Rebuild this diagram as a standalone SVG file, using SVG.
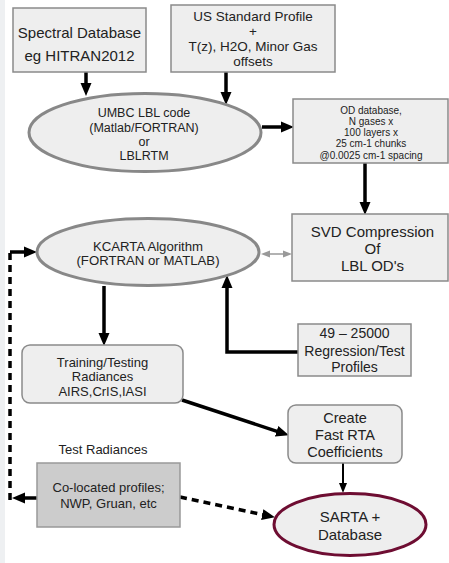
<svg xmlns="http://www.w3.org/2000/svg" width="449" height="563" viewBox="0 0 449 563">
<style>
  text { font-family: "Liberation Sans", Arial, sans-serif; fill: #222; text-anchor: middle; }
  .box { fill: #eeeeee; stroke: #8a8a8a; stroke-width: 1.5; }
  .ell { fill: #eeeeee; stroke: #888888; stroke-width: 3; }
  .con { fill: none; stroke: #000; stroke-width: 3.5; }
  .dash { fill: none; stroke: #000; stroke-width: 3.5; stroke-dasharray: 7 5; }
</style>
<defs>
  <marker id="ah" markerUnits="userSpaceOnUse" markerWidth="13" markerHeight="12" refX="6" refY="6" orient="auto">
    <path d="M0,0.5 L13,6 L0,11.5 z" fill="#000"/>
  </marker>
  <marker id="ahs" markerUnits="userSpaceOnUse" markerWidth="10" markerHeight="9" refX="5" refY="4.5" orient="auto">
    <path d="M0,0.5 L10,4.5 L0,8.5 z" fill="#000"/>
  </marker>
  <marker id="ag" markerUnits="userSpaceOnUse" markerWidth="9" markerHeight="8" refX="4" refY="4" orient="auto-start-reverse">
    <path d="M0,0.5 L9,4 L0,7.5 z" fill="#999"/>
  </marker>
</defs>
<rect x="0" y="0" width="449" height="563" fill="#ffffff"/>
<rect x="0" y="0" width="5" height="563" fill="#eef0f2"/>

<g id="connectors">
  <path class="con" d="M86,72 V89" marker-end="url(#ah)"/>
  <path class="con" d="M226,72 V98" marker-end="url(#ah)"/>
  <path class="con" d="M262,127 H287" marker-end="url(#ah)"/>
  <path class="con" d="M365,163 V208" marker-end="url(#ah)"/>
  <path fill="none" stroke="#999" stroke-width="1.5" d="M266,254 H287" marker-start="url(#ag)" marker-end="url(#ag)"/>
  <path class="con" d="M298,352 H227 V282" marker-end="url(#ah)"/>
  <path class="con" d="M104,286 V339" marker-end="url(#ah)"/>
  <path class="con" d="M182,400 L282.3,433.1" marker-end="url(#ah)"/>
  <path fill="none" stroke="#000" stroke-width="2" d="M343,463 V488" marker-end="url(#ahs)"/>
  <path class="dash" d="M180,497 L268.1,515.8" marker-end="url(#ah)"/>
  <path class="con" d="M37,498 H19" marker-end="url(#ah)"/>
  <path class="dash" d="M10,500 V252"/>
  <path class="con" d="M10,252 H30" marker-end="url(#ah)"/>
</g>

<g id="spectral-db">
  <rect class="box" x="13" y="8" width="133" height="64"/>
  <text x="79.5" y="38" font-size="15">Spectral Database</text>
  <text x="79.5" y="61" font-size="15">eg HITRAN2012</text>
</g>

<g id="us-standard">
  <rect class="box" x="171" y="5" width="164" height="67"/>
  <text x="253" y="21" font-size="13.5">US Standard Profile</text>
  <text x="253" y="36" font-size="13.5">+</text>
  <text x="253" y="51" font-size="13.5">T(z), H2O, Minor Gas</text>
  <text x="253" y="66" font-size="13.5">offsets</text>
</g>

<g id="umbc-lbl">
  <ellipse class="ell" cx="145" cy="132.5" rx="116" ry="39"/>
  <text x="144" y="117" font-size="12.5">UMBC LBL code</text>
  <text x="144" y="132" font-size="12.5">(Matlab/FORTRAN)</text>
  <text x="144" y="146" font-size="12.5">or</text>
  <text x="144" y="160" font-size="12.5">LBLRTM</text>
</g>

<g id="od-database">
  <rect class="box" x="293" y="99" width="155" height="64"/>
  <text x="371" y="114" font-size="10">OD database,</text>
  <text x="371" y="125" font-size="10">N gases x</text>
  <text x="371" y="136" font-size="10">100 layers x</text>
  <text x="371" y="147" font-size="10">25 cm-1 chunks</text>
  <text x="371" y="159" font-size="10">@0.0025 cm-1 spacing</text>
</g>

<g id="svd">
  <rect class="box" x="292" y="214" width="156" height="67"/>
  <text x="372.5" y="237" font-size="15">SVD Compression</text>
  <text x="372.5" y="254" font-size="15">Of</text>
  <text x="372.5" y="271" font-size="15">LBL OD's</text>
</g>

<g id="kcarta">
  <ellipse class="ell" cx="148" cy="252" rx="111" ry="33.5"/>
  <text x="148" y="251" font-size="13.2">KCARTA Algorithm</text>
  <text x="148" y="265" font-size="13.2">(FORTRAN or MATLAB)</text>
</g>

<g id="regression-profiles">
  <rect class="box" x="298" y="324" width="113" height="52"/>
  <text x="354.5" y="338" font-size="14">49 – 25000</text>
  <text x="354.5" y="356" font-size="14">Regression/Test</text>
  <text x="354.5" y="372" font-size="14">Profiles</text>
</g>

<g id="training">
  <rect class="box" x="22" y="345" width="161" height="58" rx="8" ry="8"/>
  <text x="102.5" y="367" font-size="13">Training/Testing</text>
  <text x="102.5" y="381" font-size="13">Radiances</text>
  <text x="102.5" y="396" font-size="13">AIRS,CrIS,IASI</text>
</g>

<g id="create-fast-rta">
  <rect class="box" x="288" y="405" width="114" height="58" rx="8" ry="8" stroke-width="2"/>
  <text x="345" y="423" font-size="14.5">Create</text>
  <text x="345" y="440" font-size="14.5">Fast RTA</text>
  <text x="345" y="457" font-size="14.5">Coefficients</text>
</g>

<g id="test-radiances-label">
  <text x="103" y="454" font-size="13">Test Radiances</text>
</g>

<g id="co-located">
  <rect x="37" y="463" width="143" height="64" fill="#cccccc" stroke="#999" stroke-width="1.5"/>
  <text x="108.5" y="492" font-size="13">Co-located profiles;</text>
  <text x="108.5" y="508" font-size="13">NWP, Gruan, etc</text>
</g>

<g id="sarta">
  <ellipse cx="350" cy="524.5" rx="76" ry="31" fill="#eeeeee" stroke="#6e0d32" stroke-width="3"/>
  <text x="350" y="522" font-size="15">SARTA +</text>
  <text x="350" y="540" font-size="15">Database</text>
</g>
</svg>
